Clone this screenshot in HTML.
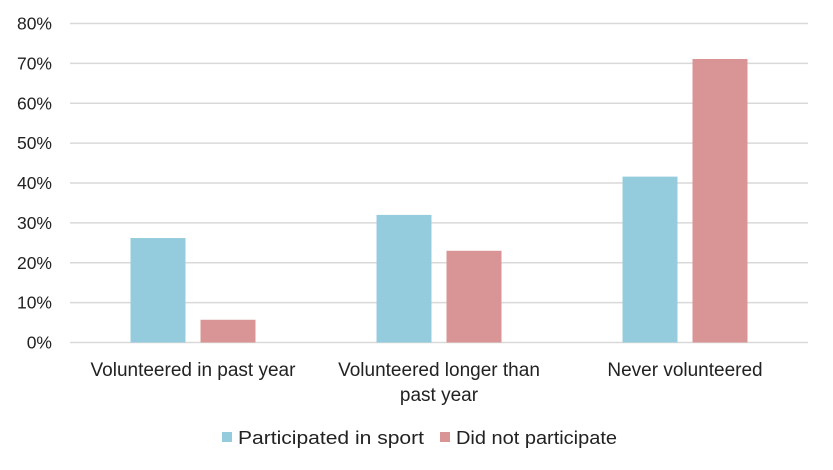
<!DOCTYPE html>
<html><head><meta charset="utf-8"><style>
body{margin:0;background:#fff;}
svg{display:block;font-family:"Liberation Sans",sans-serif;}
</style></head><body>
<svg id="chart" width="833" height="470" viewBox="0 0 833 470" xmlns="http://www.w3.org/2000/svg">
<g id="grid"></g>
<g id="ylab"></g>
<g id="bars"></g>
<g id="xlab"></g>
<g>
<rect x="222" y="432" width="10" height="10" fill="#95ccdd"/>
<text x="238" y="444" font-size="18.5" textLength="186" lengthAdjust="spacingAndGlyphs" fill="#222">Participated in sport</text>
<rect x="440" y="432" width="10" height="10" fill="#d99595"/>
<text x="456" y="444" font-size="18.5" textLength="161" lengthAdjust="spacingAndGlyphs" fill="#222">Did not participate</text>
</g>
</svg>
<script>
const categories=[["Volunteered in past year"],["Volunteered longer than","past year"],["Never volunteered"]];
const participated=[26.2,32,41.6];
const didNot=[5.7,23,71.1];
const yTicks=[0,10,20,30,40,50,60,70,80];
const NS="http://www.w3.org/2000/svg";
const x0=70,x1=808,yTop=23.5,yBot=342.5,yMax=80;
const y=v=>yBot-(v/yMax)*(yBot-yTop);
const gw=(x1-x0)/categories.length;
const cx=i=>x0+gw*(i+0.5);
function mk(t,a,p){const e=document.createElementNS(NS,t);for(const k in a)e.setAttribute(k,a[k]);p.appendChild(e);return e;}
const grid=document.getElementById('grid'),ylab=document.getElementById('ylab'),bars=document.getElementById('bars'),xlab=document.getElementById('xlab');
yTicks.forEach(t=>{
 const l=mk('line',{x1:x0,x2:x1,y1:y(t),y2:y(t),stroke:'#d9d9d9','stroke-width':1.5},grid);
 
 
 const tx=mk('text',{x:52,y:y(t)+6,'text-anchor':'end','font-size':17.5,fill:'#222'},ylab);
 tx.textContent=t+'%';
 
 
});
const bw=55;
categories.forEach((c,i)=>{
 const b1=mk('rect',{x:cx(i)-35-bw/2,y:y(participated[i]),width:bw,height:yBot-y(participated[i]),fill:'#95ccdd'},bars);
 
 
 const b2=mk('rect',{x:cx(i)+35-bw/2,y:y(didNot[i]),width:bw,height:yBot-y(didNot[i]),fill:'#d99595'},bars);
 
 
 c.forEach((line,j)=>{
  const t=mk('text',{x:cx(i),y:376+j*25,'text-anchor':'middle','font-size':19,fill:'#222'},xlab);
  t.textContent=line;
  
  
 });
});
</script>
</body></html>
